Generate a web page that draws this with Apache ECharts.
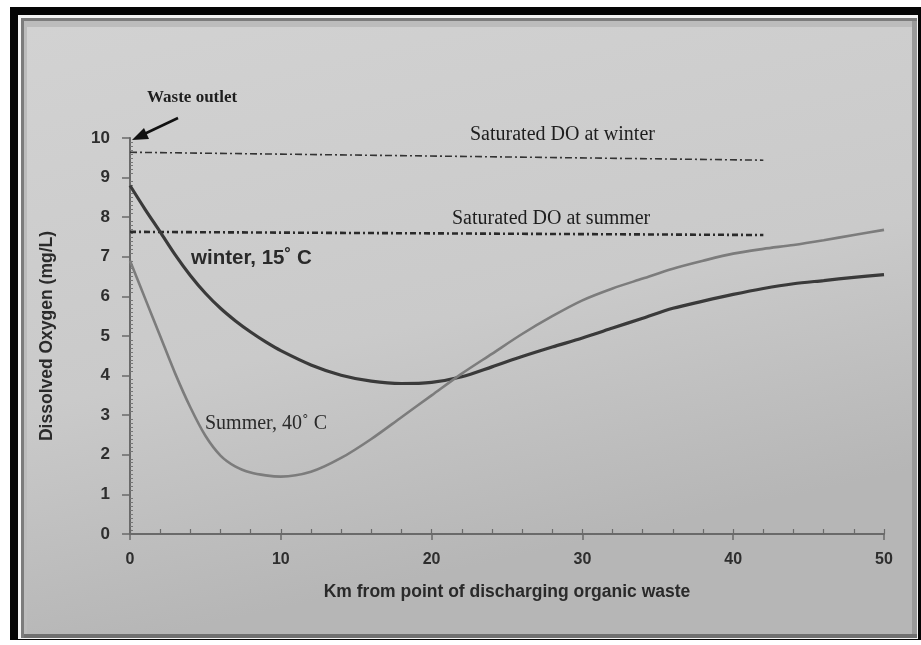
<!DOCTYPE html>
<html>
<head>
<meta charset="utf-8">
<script src="https://cdn.jsdelivr.net/npm/echarts@6/dist/echarts.min.js"></script>
<style>
html,body{margin:0;padding:0;background:#fff;}
#c{width:921px;height:645px;}
</style>
</head>
<body>
<div id="c"></div>
<script>
// Distance from point of discharge (km)
var km = [0,1,2,3,4,5,6,7,8,9,10,12,14,16,18,20,22,24,26,28,30,32,34,36,38,40,42,44,46,48,50];
// Dissolved oxygen, winter 15 C (mg/L)
var winterDO = [8.8,8.2,7.63,7.05,6.53,6.08,5.7,5.38,5.1,4.85,4.63,4.27,4.01,3.86,3.8,3.83,3.97,4.22,4.48,4.72,4.95,5.2,5.45,5.7,5.88,6.05,6.2,6.32,6.4,6.48,6.55];
// Dissolved oxygen, summer 40 C (mg/L)
var summerDO = [6.9,5.95,5.0,4.05,3.2,2.48,1.98,1.7,1.55,1.48,1.45,1.57,1.92,2.4,2.95,3.5,4.05,4.55,5.05,5.5,5.9,6.2,6.45,6.7,6.9,7.08,7.2,7.3,7.42,7.55,7.68];
// Saturated DO reference lines: [km, mg/L] at both ends
var satWinter = [[0,9.64],[42,9.44]];
var satSummer = [[0,7.63],[42,7.55]];
var yTicks = [0,1,2,3,4,5,6,7,8,9,10];
var xTicks = [0,10,20,30,40,50];

function pairs(xs, ys){ return xs.map(function(x,i){ return [x, ys[i]]; }); }

var chart = echarts.init(document.getElementById('c'), null, {renderer:'canvas'});

chart.setOption({
  animation:false,
  backgroundColor:'#ffffff',
  grid:{left:130, right:37, top:138, bottom:111, containLabel:false},
  xAxis:[{
    type:'value', min:0, max:50, interval:10,
    axisLine:{lineStyle:{color:'#6a6a6a', width:2}},
    axisTick:{length:6, lineStyle:{color:'#6a6a6a', width:1.5}},
    axisLabel:{margin:18, color:'#2e2e2e', fontSize:16, fontFamily:'Liberation Sans', fontWeight:'bold'},
    splitLine:{show:false},
    name:'Km from point of discharging organic waste',
    nameLocation:'middle', nameGap:49,
    nameTextStyle:{color:'#2a2a2a', fontSize:17.5, fontFamily:'Liberation Sans', fontWeight:'bold'}
  },{
    type:'value', min:0, max:50, interval:2, position:'bottom',
    axisLine:{show:false},
    axisTick:{inside:true, length:5, lineStyle:{color:'#6a6a6a', width:1.2}},
    axisLabel:{show:false}, splitLine:{show:false}
  }],
  yAxis:[{
    type:'value', min:0, max:10, interval:1,
    axisLine:{show:true, lineStyle:{color:'#6a6a6a', width:2}},
    axisTick:{show:true, length:8, lineStyle:{color:'#6a6a6a', width:1.5}},
    axisLabel:{margin:20, color:'#2e2e2e', fontSize:17, fontFamily:'Liberation Sans', fontWeight:'bold'},
    splitLine:{show:false},
    name:'Dissolved Oxygen (mg/L)',
    nameLocation:'middle', nameGap:74, nameRotate:90,
    nameTextStyle:{color:'#2a2a2a', fontSize:17.5, fontFamily:'Liberation Sans', fontWeight:'bold'}
  },{
    type:'value', min:0, max:10, interval:1, position:'left',
    axisLine:{show:false},
    axisTick:{show:false, inside:true},
    minorTick:{show:true, splitNumber:10, length:3, lineStyle:{color:'#777', width:1}},
    axisLabel:{show:false}, splitLine:{show:false}
  }],
  series:[
    {type:'line', name:'Saturated DO at winter', data:satWinter, symbol:'none',
     lineStyle:{color:'#333', width:1.6, type:[7,3,2,3]}, z:3},
    {type:'line', name:'Saturated DO at summer', data:satSummer, symbol:'none',
     lineStyle:{color:'#2a2a2a', width:2.6, type:[6,3,2,3]}, z:3},
    {type:'line', name:'winter, 15˚ C', data:pairs(km, winterDO), smooth:0.3, symbol:'none',
     lineStyle:{color:'#3a3a3a', width:3.2}, z:4},
    {type:'line', name:'Summer, 40˚ C', data:pairs(km, summerDO), smooth:0.3, symbol:'none',
     lineStyle:{color:'#7c7c7c', width:2.6}, z:4}
  ],
  graphic:[
    {type:'rect', z:-20, shape:{x:10,y:7,width:911,height:633}, style:{fill:'#050505'}},
    {type:'rect', z:-19, shape:{x:18,y:15,width:900,height:624}, style:{fill:'#f4f4f4'}},
    {type:'rect', z:-18, shape:{x:21,y:18,width:896,height:620}, style:{fill:'#7c7c7c'}},
    {type:'rect', z:-17, shape:{x:24,y:21,width:892,height:616}, style:{fill:'#bcbcbc'}},
    {type:'rect', z:-16, shape:{x:27,y:27,width:888,height:608},
     style:{fill:new echarts.graphic.LinearGradient(0,0,0.15,1,[
       {offset:0,color:'#d2d2d2'},{offset:0.6,color:'#cacaca'},{offset:1,color:'#b6b6b6'}])}},
    {type:'rect', z:-15, shape:{x:912,y:21,width:5,height:616}, style:{fill:'#9a9a9a'}},
    {type:'rect', z:-15, shape:{x:24,y:634,width:893,height:4}, style:{fill:'#707070'}},
    {type:'text', z:10, left:147, top:89, style:{text:'Waste outlet', fill:'#1e1e1e', font:'bold 17px "Liberation Serif"'}},
    {type:'polyline', z:10, shape:{points:[[178,118],[140,136]]}, style:{stroke:'#111', lineWidth:2.5}},
    {type:'polygon', z:10, shape:{points:[[132,140],[144,128],[149,139]]}, style:{fill:'#111'}},
    {type:'text', z:10, left:470, top:125, style:{text:'Saturated DO at winter', fill:'#1e1e1e', font:'20px "Liberation Serif"'}},
    {type:'text', z:10, left:452, top:209, style:{text:'Saturated DO at summer', fill:'#1e1e1e', font:'20px "Liberation Serif"'}},
    {type:'text', z:10, left:191, top:248, style:{text:'winter, 15˚ C', fill:'#2a2a2a', font:'bold 20.5px "Liberation Sans"'}},
    {type:'text', z:10, left:205, top:414, style:{text:'Summer, 40˚ C', fill:'#2a2a2a', font:'20px "Liberation Serif"'}}
  ]
});
</script>
</body>
</html>
